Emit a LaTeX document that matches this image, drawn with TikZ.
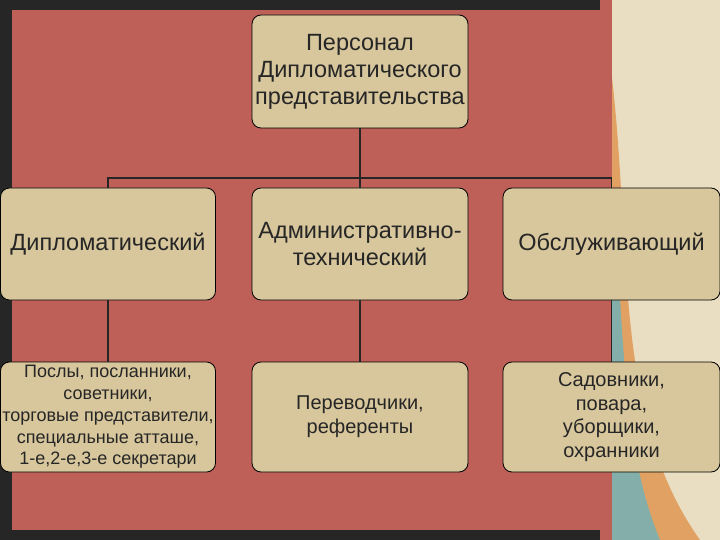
\documentclass[tikz,border=0pt]{standalone}
\usepackage{fontspec}
\setmainfont{Liberation Sans}
\definecolor{bg}{HTML}{BE5F58}
\definecolor{boxc}{HTML}{D8C79C}
\definecolor{cream}{HTML}{E9DDC2}
\definecolor{orng}{HTML}{D98A3C}
\definecolor{teal}{HTML}{4F8C86}
\begin{document}
\begin{tikzpicture}[x=1pt,y=-1pt,
  bx/.style={draw=black,line width=0.8pt,fill=boxc,rounded corners=9pt,align=center,inner sep=0pt,text=black!85},
  big/.style={font=\fontsize{23.5}{27}\selectfont},
  ln/.style={draw=black!85,line width=1.6pt}]
\useasboundingbox (0,0) rectangle (720,540);
\fill[black!85] (0,0) rectangle (720,540);
\fill[bg] (12,10) rectangle (600,530);
\fill[cream] (600,0) rectangle (720,540);
\fill[orng!80] (600,0) .. controls (640,200) and (600,400) .. (700,540) -- (600,540) -- cycle;
\fill[teal!70] (600,120) .. controls (630,260) and (610,420) .. (660,540) -- (600,540) -- cycle;
\fill[bg] (600,0) rectangle (612,540);
\node[bx,big,minimum width=216pt,minimum height=113pt] (top) at (360,71.5) {Персонал\\Дипломатического\\представительства};
\node[bx,big,minimum width=215pt,minimum height=112pt] (a) at (108,244) {Дипломатический};
\node[bx,big,minimum width=216pt,minimum height=112pt] (b) at (360,244) {Административно-\\технический};
\node[bx,big,minimum width=217pt,minimum height=112pt] (c) at (611.5,244) {Обслуживающий};
\node[bx,minimum width=215pt,minimum height=110pt,font=\fontsize{18}{21.8}\selectfont] (a2) at (108,417) {Послы, посланники,\\советники,\\торговые представители,\\специальные атташе,\\1-е,2-е,3-е секретари};
\node[bx,minimum width=216pt,minimum height=110pt,font=\fontsize{20}{24}\selectfont] (b2) at (360,417) {Переводчики,\\референты};
\node[bx,minimum width=217pt,minimum height=110pt,font=\fontsize{20}{23.5}\selectfont] (c2) at (611.5,417) {Садовники,\\повара,\\уборщики,\\охранники};
\coordinate (j) at (360,178);
\draw[ln] (top.south) -- (j);
\draw[ln] (a.north) |- (j) -| (c.north);
\draw[ln] (j) -- (b.north);
\draw[ln] (a.south) -- (a2.north);
\draw[ln] (b.south) -- (b2.north);
\draw[ln] (c.south) -- (c2.north);
\end{tikzpicture}
\end{document}
